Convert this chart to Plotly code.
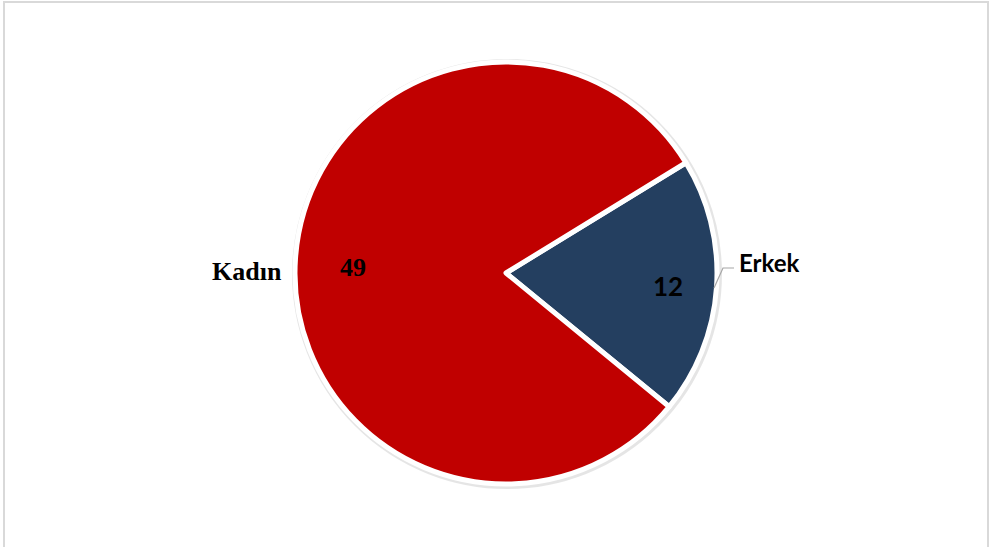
import plotly.graph_objects as go

categories = ["Erkek", "Kadın"]
values = [12, 49]
colors = ["#243F60", "#C00000"]

W, H = 991, 547
cx, cy, R = 506, 273, 211
dom_x = [(cx - R) / W, (cx + R) / W]
dom_y = [1 - (cy + R) / H, 1 - (cy - R) / H]

def px(x): return x / W
def py(y): return 1 - y / H

fig = go.Figure()
fig.add_trace(go.Pie(
    labels=categories, values=values, sort=False, direction="clockwise", rotation=58.5,
    marker=dict(colors=colors, line=dict(color="white", width=5)),
    textinfo="none",
    domain=dict(x=dom_x, y=dom_y), showlegend=False, hoverinfo="skip",
))

# label placements (pixel centres)
value_pos = {"Erkek": (668, 286), "Kadın": (353, 268)}
name_pos = {"Erkek": (769, 262), "Kadın": (247, 271)}
value_font = {"Erkek": ("Lato", 26), "Kadın": ("Liberation Serif", 26)}
name_font = {"Erkek": ("Lato", 24), "Kadın": ("Liberation Serif", 26)}

anns = []
for c, v in zip(categories, values):
    x, y = value_pos[c]
    f, s = value_font[c]
    anns.append(dict(x=px(x), y=py(y), xref="paper", yref="paper", text=f"<b>{v}</b>",
                     xanchor="center", yanchor="middle",
                     showarrow=False, font=dict(family=f, size=s, color="black")))
    x, y = name_pos[c]
    f, s = name_font[c]
    anns.append(dict(x=px(x), y=py(y), xref="paper", yref="paper", text=f"<b>{c}</b>",
                     xanchor="center", yanchor="middle",
                     showarrow=False, font=dict(family=f, size=s, color="black")))

shadow_r = R + 2
fig.update_layout(
    width=W, height=H, margin=dict(l=0, r=0, t=0, b=0),
    paper_bgcolor="white", plot_bgcolor="white",
    annotations=anns,
    shapes=[
        dict(type="rect", xref="paper", yref="paper", x0=px(4), x1=px(988), y0=-0.02, y1=py(2),
             line=dict(color="#D9D9D9", width=2)),
        dict(type="circle", xref="paper", yref="paper", layer="below",
             x0=px(cx + 1 - shadow_r), x1=px(cx + 1 + shadow_r),
             y0=py(cy + 1 + shadow_r), y1=py(cy + 1 - shadow_r),
             line=dict(color="rgba(0,0,0,0.10)", width=4), fillcolor="rgba(0,0,0,0)"),
        dict(type="path", xref="paper", yref="paper",
             path=f"M {px(714)} {py(288)} L {px(723)} {py(268)} L {px(734)} {py(268)}",
             line=dict(color="#A6A6A6", width=1.2)),
    ],
)
fig.write_html("out.html", config={"displayModeBar": False},
               post_script="document.body.style.margin='0';")
